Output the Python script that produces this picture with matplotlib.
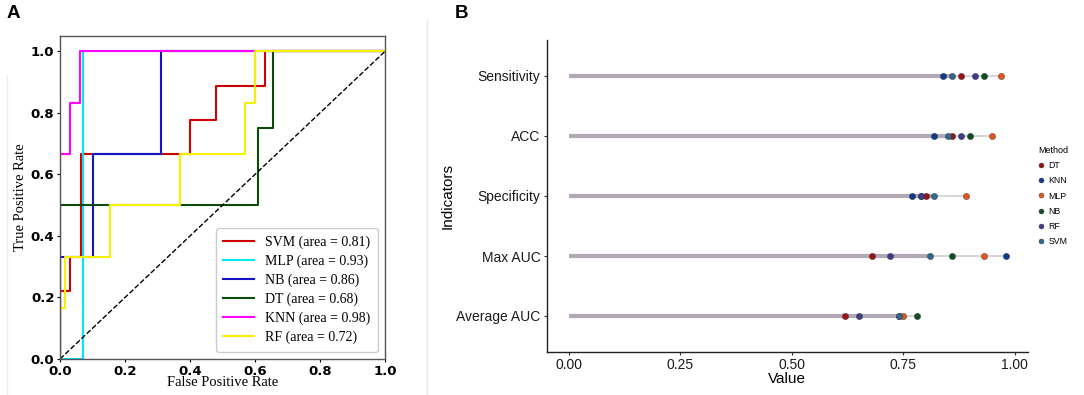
import matplotlib
matplotlib.use("Agg")

import matplotlib.pyplot as plt
from matplotlib.lines import Line2D

# ROC curves (panel A) -----------
roc_names = ["SVM", "MLP", "NB", "DT", "KNN", "RF"]
roc_auc = [0.81, 0.93, 0.86, 0.68, 0.98, 0.72]
roc_colors = ["#d00000", "#00e8f0", "#1414c4", "#0b4a0b", "#ff00ff", "#f7f000"]

svm_fpr = [0, 0, 0, 0.03, 0.03, 0.065, 0.065, 0.40, 0.40, 0.48, 0.48, 0.63, 0.63, 1]
svm_tpr = [0, 0.11, 0.22, 0.22, 0.333, 0.333, 0.667, 0.667, 0.778, 0.778, 0.889, 0.889, 1, 1]
mlp_fpr = [0, 0.07, 0.07, 1]
mlp_tpr = [0, 0, 1, 1]
nb_fpr = [0, 0, 0.103, 0.103, 0.31, 0.31, 1]
nb_tpr = [0, 0.333, 0.333, 0.667, 0.667, 1, 1]
dt_fpr = [0, 0, 0.61, 0.61, 0.656, 0.656, 1]
dt_tpr = [0, 0.5, 0.5, 0.75, 0.75, 1, 1]
knn_fpr = [0, 0, 0.03, 0.03, 0.06, 0.06, 1]
knn_tpr = [0, 0.667, 0.667, 0.833, 0.833, 1, 1]
rf_fpr = [0, 0, 0.014, 0.014, 0.154, 0.154, 0.37, 0.37, 0.57, 0.57, 0.60, 0.60, 1]
rf_tpr = [0, 0.167, 0.167, 0.333, 0.333, 0.5, 0.5, 0.667, 0.667, 0.833, 0.833, 1, 1]

roc_fpr = [svm_fpr, mlp_fpr, nb_fpr, dt_fpr, knn_fpr, rf_fpr]
roc_tpr = [svm_tpr, mlp_tpr, nb_tpr, dt_tpr, knn_tpr, rf_tpr]

# indicator lollipops (panel B) --
indicators = ["Sensitivity", "ACC", "Specificity", "Max AUC", "Average AUC"]
methods = ["DT", "KNN", "MLP", "NB", "RF", "SVM"]
method_colors = ["#9a1212", "#0c3c8c", "#e3561b", "#0d4f22", "#3f3c8c", "#2f6a8c"]

dt_vals = [0.88, 0.86, 0.80, 0.68, 0.62]
knn_vals = [0.84, 0.82, 0.77, 0.98, 0.74]
mlp_vals = [0.97, 0.95, 0.89, 0.93, 0.75]
nb_vals = [0.93, 0.90, 0.79, 0.86, 0.78]
rf_vals = [0.91, 0.88, 0.79, 0.72, 0.65]
svm_vals = [0.86, 0.85, 0.82, 0.81, 0.74]
method_vals = [dt_vals, knn_vals, mlp_vals, nb_vals, rf_vals, svm_vals]

W, H = 1084, 395
fig = plt.figure(figsize=(W / 100, H / 100), dpi=100)

# faint panel borders from the original figure
fig.add_artist(Line2D([427 / W, 427 / W], [0, 1 - 20 / H], color="#e8e8e8", lw=1))
fig.add_artist(Line2D([7 / W, 7 / W], [0, 1 - 75 / H], color="#ececec", lw=1))

fig.text(7 / W, 1 - 18 / H, "A", fontsize=13.5, fontweight="bold", family="Liberation Sans")
fig.text(455 / W, 1 - 18 / H, "B", fontsize=13.5, fontweight="bold", family="Liberation Sans")

# panel A ------------------------
ax1 = fig.add_axes([60 / W, 36 / H, 325 / W, 323 / H])
for name, auc, col, fpr, tpr in zip(roc_names, roc_auc, roc_colors, roc_fpr, roc_tpr):
    ax1.plot(fpr, tpr, color=col, lw=1.5, label=f"{name} (area = {auc:.2f})")
ax1.plot([0, 1], [0, 1], color="black", lw=1, ls="--")
ax1.set_xlim(0, 1)
ax1.set_ylim(0, 1.05)
ax1.set_xticks([0, 0.2, 0.4, 0.6, 0.8, 1.0])
ax1.set_yticks([0, 0.2, 0.4, 0.6, 0.8, 1.0])
for lab in ax1.get_xticklabels() + ax1.get_yticklabels():
    lab.set_fontweight("bold")
    lab.set_fontsize(9.5)
ax1.tick_params(length=2, pad=2)
for sp in ax1.spines.values():
    sp.set_color("#555555")
    sp.set_linewidth(1)
ax1.set_xlabel("False Positive Rate", family="Liberation Serif", fontsize=10.5, labelpad=-1)
ax1.set_ylabel("True Positive Rate", family="Liberation Serif", fontsize=10.5, labelpad=3)
ax1.legend(loc="lower right", prop={"family": "Liberation Serif", "size": 10},
           handlelength=2.2, labelspacing=0.4, borderpad=0.55, framealpha=1,
           edgecolor="#cccccc")

# panel B ------------------------
ax2 = fig.add_axes([546.7 / W, 43 / H, 481 / W, 312 / H])
ypos = list(range(len(indicators), 0, -1))
for i, y in enumerate(ypos):
    row = [v[i] for v in method_vals]
    ax2.plot([min(row), max(row)], [y, y], color="#cfcfcf", lw=1.2, zorder=1)
    ax2.plot([0, svm_vals[i]], [y, y], color="#b2a8b6", lw=3, solid_capstyle="butt", zorder=2)
for m, col, vals in zip(methods, method_colors, method_vals):
    ax2.plot(vals, ypos, ls="none", marker="o", ms=4.5, color=col,
             mec="#333333", mew=0.3, zorder=3, label=m)

ax2.set_xlim(-0.049, 1.029)
ax2.set_ylim(0.4, 5.6)
ax2.set_yticks(ypos)
ax2.set_yticklabels(indicators)
ax2.set_xticks([0, 0.25, 0.5, 0.75, 1.0])
ax2.set_xticklabels(["0.00", "0.25", "0.50", "0.75", "1.00"])
for lab in ax2.get_xticklabels() + ax2.get_yticklabels():
    lab.set_family("Liberation Sans")
    lab.set_fontsize(10)
    lab.set_color("#1a1a1a")
ax2.tick_params(length=2.5, width=0.8, color="#333333", pad=2)
for s in ["top", "right"]:
    ax2.spines[s].set_visible(False)
for s in ["left", "bottom"]:
    ax2.spines[s].set_color("#222222")
    ax2.spines[s].set_linewidth(1)
ax2.set_xlabel("Value", family="Liberation Sans", fontsize=11, labelpad=0)
ax2.set_ylabel("Indicators", family="Liberation Sans", fontsize=11, labelpad=1)

leg = ax2.legend(loc="center left", bbox_to_anchor=(1.005, 0.5), frameon=False,
                 title="Method", prop={"family": "Liberation Sans", "size": 6.3},
                 title_fontproperties={"family": "Liberation Sans", "size": 6.5},
                 handlelength=0.8, handletextpad=0.4, labelspacing=0.72, markerscale=0.8)
leg._legend_box.align = "left"

fig.savefig("out.png", dpi=100)
